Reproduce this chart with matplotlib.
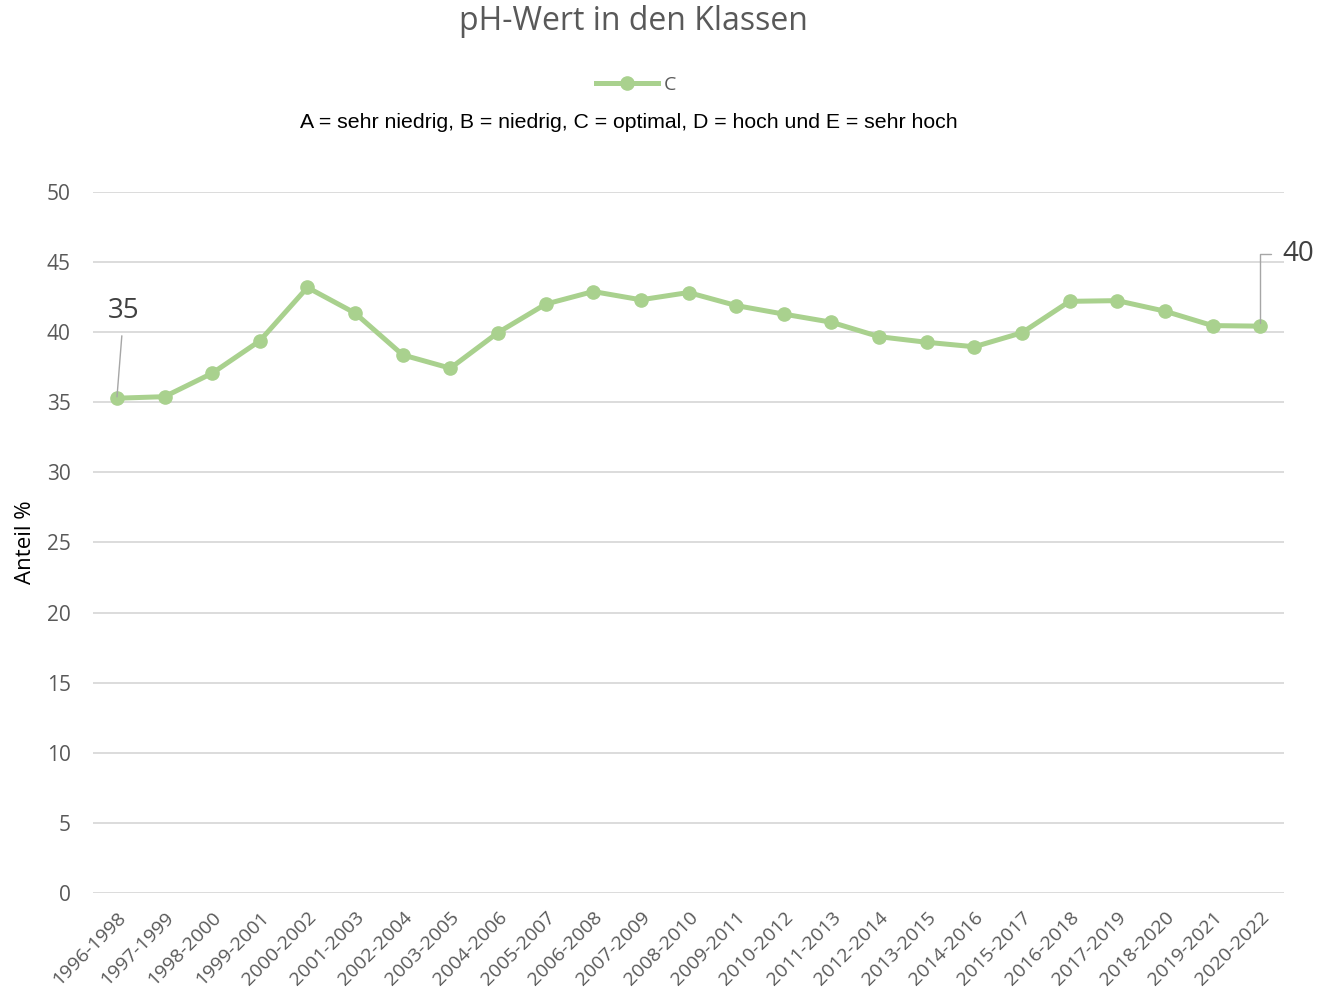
import matplotlib.pyplot as plt

plt.rcParams['font.family'] = ['Open Sans', 'DejaVu Sans']

# Zeiträume und Anteil Klasse C (%)
perioden = ['1996-1998', '1997-1999', '1998-2000', '1999-2001', '2000-2002',
            '2001-2003', '2002-2004', '2003-2005', '2004-2006', '2005-2007',
            '2006-2008', '2007-2009', '2008-2010', '2009-2011', '2010-2012',
            '2011-2013', '2012-2014', '2013-2015', '2014-2016', '2015-2017',
            '2016-2018', '2017-2019', '2018-2020', '2019-2021', '2020-2022']
klasse_c = [35.29, 35.4, 37.07, 39.38, 43.19, 41.36, 38.38, 37.43, 39.97, 42.0,
            42.9, 42.31, 42.83, 41.9, 41.29, 40.71, 39.68, 39.28, 38.96, 39.96,
            42.2, 42.25, 41.5, 40.47, 40.43]
y_ticks = list(range(0, 51, 5))

gruen = '#a9d18e'
grau = '#595959'

fig = plt.figure(figsize=(13.2, 10.02), dpi=100)
ax = fig.add_axes([0.0705, 0.1088, 0.9022, 0.6996])

x = list(range(len(perioden)))
line, = ax.plot(x, klasse_c, color=gruen, linewidth=3.6, marker='o',
                markersize=9.5, label='C', zorder=3)

ax.set_xlim(-0.5, len(perioden) - 0.5)
ax.set_ylim(0, 50)
ax.set_yticks(y_ticks)
ax.set_xticks(x)
ax.set_xticklabels(perioden, rotation=45, ha='right', rotation_mode='anchor')
ax.tick_params(axis='both', length=0, colors=grau)
ax.tick_params(axis='y', pad=16, labelsize=15)
ax.tick_params(axis='x', pad=11, labelsize=14)
ax.grid(axis='y', color='#d9d9d9', linewidth=1.3)
ax.set_axisbelow(True)
for s in ax.spines.values():
    s.set_visible(False)

ax.set_ylabel('Anteil %', fontsize=16, color='black', labelpad=8)

# Datenbeschriftungen erster und letzter Punkt
ax.annotate(f'{round(klasse_c[0])}', xy=(0, klasse_c[0]), xytext=(5, 63),
            textcoords='offset points', ha='center', va='center', fontsize=20,
            color='#404040',
            arrowprops=dict(arrowstyle='-', color='#a6a6a6', lw=1,
                            shrinkA=6, shrinkB=1))
ax.annotate(f'{round(klasse_c[-1])}', xy=(len(x) - 1, klasse_c[-1]),
            xytext=(16, 52), textcoords='offset points', ha='left',
            va='center', fontsize=20, color='#404040',
            arrowprops=dict(arrowstyle='-', color='#a6a6a6', lw=1,
                            connectionstyle='angle,angleA=180,angleB=90,rad=0',
                            relpos=(0, 0.5), shrinkA=6, shrinkB=2))

fig.suptitle('pH-Wert in den Klassen', x=0.48, y=0.995, fontsize=23, color=grau)
fig.legend(handles=[line], loc='center', bbox_to_anchor=(0.482, 0.915),
           frameon=False, fontsize=14, handlelength=3.2, handletextpad=0.3,
           labelcolor=grau)
fig.text(0.4765, 0.878, 'A = sehr niedrig, B = niedrig, C = optimal, D = hoch und E = sehr hoch',
         ha='center', va='center', fontsize=15.3, family=['Liberation Sans'])

fig.savefig('out.png', dpi=100)
